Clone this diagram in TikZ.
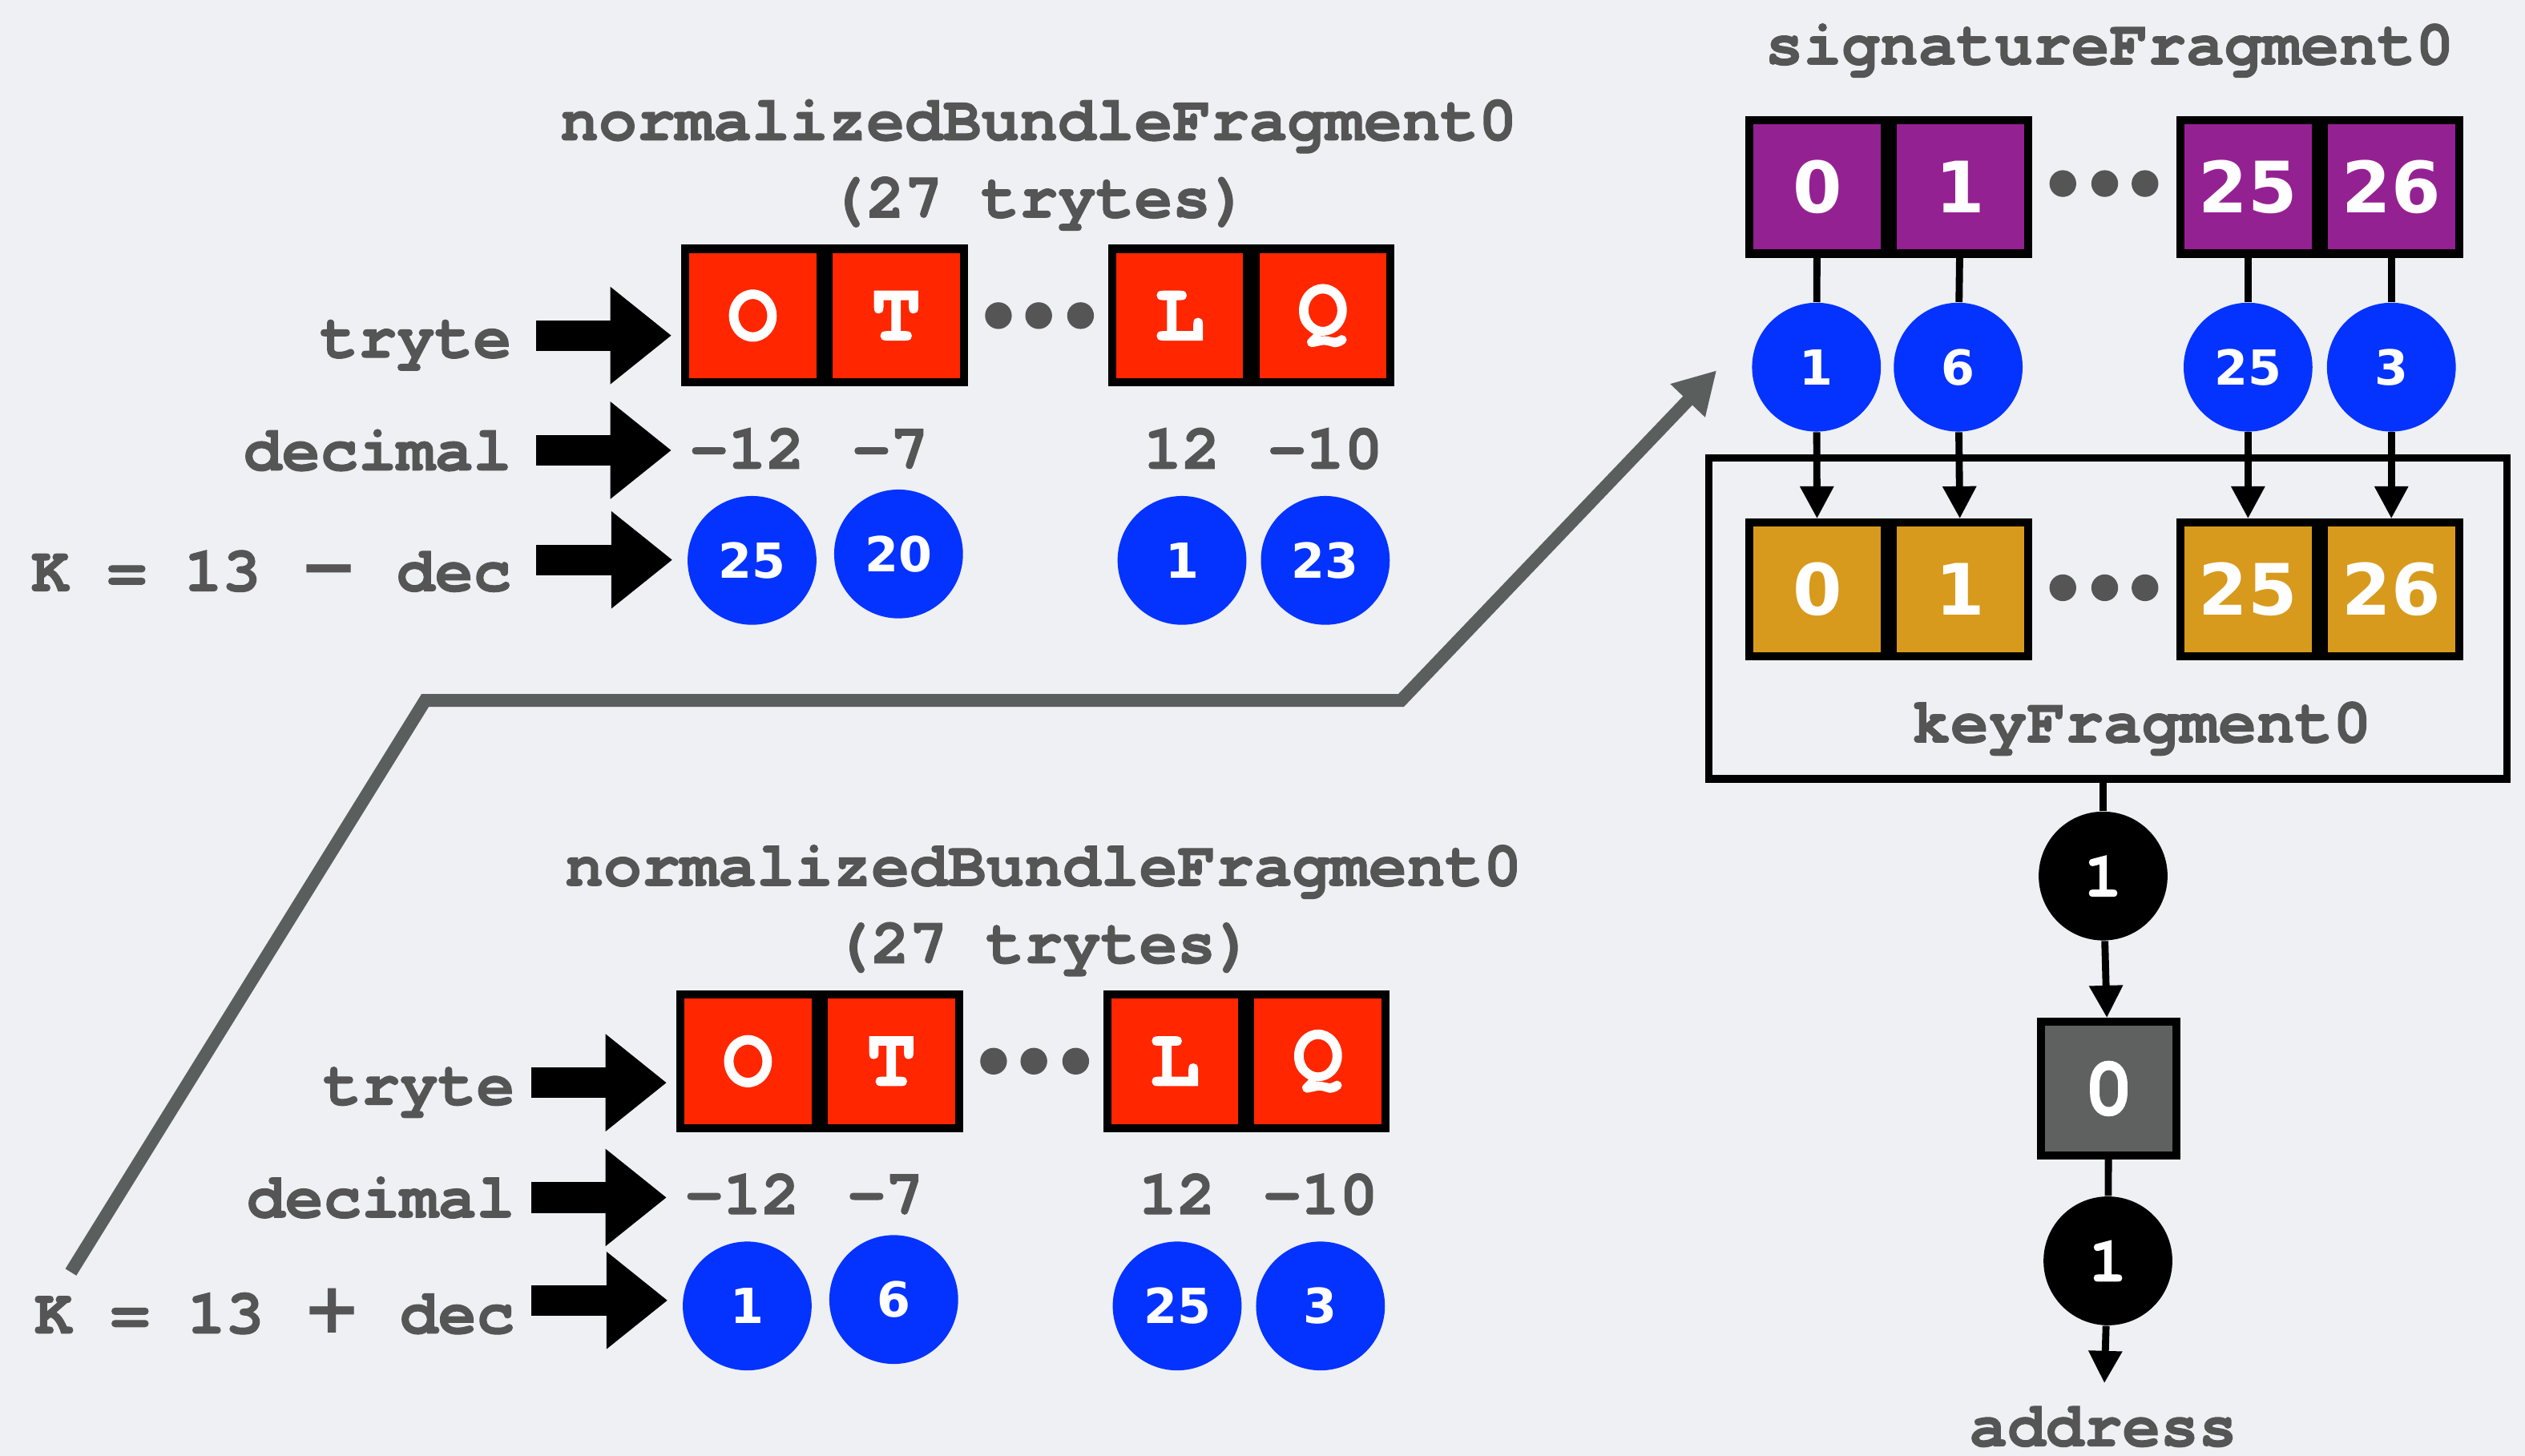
\documentclass[tikz,border=0pt]{standalone}
\usepackage{fontspec}
\setmainfont{texgyrecursor}[Extension=.otf, UprightFont=*-regular, BoldFont=*-bold, BoldFeatures={FakeBold=1.3}]
\newfontfamily\numfont{DejaVu Sans}
\usetikzlibrary{shapes.geometric, arrows, arrows.meta, positioning}

\definecolor{bggray}{HTML}{EEF0F3}
\definecolor{txtgray}{HTML}{555555}
\definecolor{trytered}{HTML}{FF2600}
\definecolor{numblue}{HTML}{0433FF}
\definecolor{sigpurple}{HTML}{942192}
\definecolor{keyorange}{HTML}{D89A1C}
\definecolor{digestgray}{HTML}{5E6160}
\definecolor{linegray}{HTML}{5A5F5D}

\newcommand{\lblfont}{\fontsize{19.8}{22}\selectfont\bfseries}
\newcommand{\boxfont}{\fontsize{26}{28}\selectfont\bfseries}
\newcommand{\numsmall}{\numfont\fontsize{15}{16}\selectfont\bfseries}
\newcommand{\numbig}{\numfont\fontsize{22}{24}\selectfont\bfseries}
\newcommand{\opsign}[1]{{\numfont\fontsize{22}{24}\selectfont\bfseries #1}}

\tikzstyle{lbl} = [inner sep=0pt, text=txtgray, font=\lblfont]
\tikzstyle{trytebox} = [rectangle, minimum width=42pt, minimum height=41.5pt, draw=black, line width=2.5pt, fill=trytered, text=white, font=\boxfont, inner sep=0pt]
\tikzstyle{sigbox} = [trytebox, fill=sigpurple, font=\numbig]
\tikzstyle{keybox} = [trytebox, fill=keyorange, font=\numbig]
\tikzstyle{digestbox} = [trytebox, fill=digestgray, font=\boxfont]
\tikzstyle{val} = [circle, minimum size=40pt, inner sep=0pt, fill=numblue, text=white, font=\numsmall]
\tikzstyle{hashval} = [val, fill=black, font=\lblfont]
\tikzstyle{dot} = [circle, minimum size=8.3pt, inner sep=0pt, fill=txtgray]
\tikzstyle{blockarrow} = [line width=9.5pt, -{Triangle[width=29pt,length=19pt]}]
\tikzstyle{arrow} = [line width=2.2pt, -{Triangle[width=10pt,length=10pt]}]
\tikzstyle{link} = [line width=2.2pt]

\begin{document}
\begin{tikzpicture}[x=0.5pt, y=-0.5pt]

\fill[bggray] (0,0) rectangle (1568,904);
\useasboundingbox (0,0) rectangle (1568,904);

%% UPPER FRAGMENT (13 - dec)

\node (nbfA) [lbl, anchor=base] at (645,87) {normalizedBundleFragment0};
\node (lenA) [lbl, anchor=base] at (645,135) {(27 trytes)};
\node (tA1) [trytebox] at (467.5,196) {O};
\node (tA2) [trytebox, right of=tA1, node distance=44.5pt] {T};
\node (tA3) [trytebox] at (732.5,196) {L};
\node (tA4) [trytebox, right of=tA3, node distance=44.5pt] {Q};
\foreach \x [count=\i] in {620,645,671}
  \node (dA\i) [dot] at (\x,196) {};
\node (vA1) [lbl, anchor=base] at (464,291) {-12};
\node (vA2) [lbl, anchor=base] at (553,291) {-7};
\node (vA3) [lbl, anchor=base] at (734,291) {12};
\node (vA4) [lbl, anchor=base] at (823,291) {-10};
\node (kA1) [val] at (467,348) {25};
\node (kA2) [val] at (558,344) {20};
\node (kA3) [val] at (734,348) {1};
\node (kA4) [val] at (823,348) {23};
\node (lTA) [lbl, anchor=base east] at (318,222) {tryte};
\node (lDA) [lbl, anchor=base east] at (318,292) {decimal};
\node (lKA) [lbl, anchor=base east] at (318,367) {K = 13 \opsign{−} dec};

%% LOWER FRAGMENT (13 + dec)

\node (nbfB) [lbl, anchor=base] at (648,550) {normalizedBundleFragment0};
\node (lenB) [lbl, anchor=base] at (648,598) {(27 trytes)};
\node (tB1) [trytebox] at (464.5,659) {O};
\node (tB2) [trytebox, right of=tB1, node distance=44.5pt] {T};
\node (tB3) [trytebox] at (729.5,659) {L};
\node (tB4) [trytebox, right of=tB3, node distance=44.5pt] {Q};
\foreach \x [count=\i] in {617,642,668}
  \node (dB\i) [dot] at (\x,659) {};
\node (vB1) [lbl, anchor=base] at (461,754) {-12};
\node (vB2) [lbl, anchor=base] at (550,754) {-7};
\node (vB3) [lbl, anchor=base] at (731,754) {12};
\node (vB4) [lbl, anchor=base] at (820,754) {-10};
\node (kB1) [val] at (464,811) {1};
\node (kB2) [val] at (555,807) {6};
\node (kB3) [val] at (731,811) {25};
\node (kB4) [val] at (820,811) {3};
\node (lTB) [lbl, anchor=base east] at (320,686) {tryte};
\node (lDB) [lbl, anchor=base east] at (320,756) {decimal};
\node (lKB) [lbl, anchor=base east] at (320,828) {K = 13 \opsign{+} dec};

%% SIGNATURE / KEY FRAGMENT

\node (sfT) [lbl, anchor=base] at (1310,40) {signatureFragment0};
\node (sg1) [sigbox] at (1128.5,116) {0};
\node (sg2) [sigbox, right of=sg1, node distance=44.5pt] {1};
\node (sg3) [sigbox] at (1396,116) {25};
\node (sg4) [sigbox, right of=sg3, node distance=44.5pt] {26};
\foreach \x [count=\i] in {1281,1307,1332}
  \node (dS\i) [dot] at (\x,114) {};
\node (sv1) [val] at (1128,228) {1};
\node (sv2) [val] at (1216,228) {6};
\node (sv3) [val] at (1396,228) {25};
\node (sv4) [val] at (1485,228) {3};

\node (keyfrag) [draw=black, line width=2.3pt, minimum width=247.7pt, minimum height=99.7pt] at (1309,384) {};
\node (kf1) [keybox] at (1128.5,366) {0};
\node (kf2) [keybox, right of=kf1, node distance=44.5pt] {1};
\node (kf3) [keybox] at (1396,366) {25};
\node (kf4) [keybox, right of=kf3, node distance=44.5pt] {26};
\foreach \x [count=\i] in {1281,1307,1332}
  \node (dK\i) [dot] at (\x,365) {};
\node (kfT) [lbl, anchor=base] at (1330,461) {keyFragment0};

\node (h1) [hashval] at (1306,544) {1};
\node (dg) [digestbox] at (1309.5,676) {0};
\node (h2) [hashval] at (1309,783) {1};
\node (addr) [lbl, anchor=base] at (1306,898) {address};

\coordinate (gS) at (44,790);
\coordinate (gB1) at (264,435);
\coordinate (gB2) at (870,435);
\coordinate (gE) at (1066,230);

%% ARROWS

\draw [blockarrow] ([xshift=7.5pt,yshift=3pt]lTA.east) -- ([xshift=-3pt,yshift=3pt]lTA.east -| tA1.west);
\draw [blockarrow] ([xshift=7.5pt]lDA.east) -- ([xshift=-5.5pt]lDA.east -| vA1.west);
\draw [blockarrow] ([xshift=7.5pt,yshift=3.5pt]lKA.east) -- ([xshift=-4.5pt,yshift=3.5pt]lKA.east -| kA1.west);
\draw [blockarrow] ([xshift=5pt,yshift=3pt]lTB.east) -- ([xshift=-3pt,yshift=3pt]lTB.east -| tB1.west);
\draw [blockarrow] ([xshift=5pt]lDB.east) -- ([xshift=-5.5pt]lDB.east -| vB1.west);
\draw [blockarrow] ([xshift=5pt,yshift=3.5pt]lKB.east) -- ([xshift=-4.5pt,yshift=3.5pt]lKB.east -| kB1.west);

\draw [line width=4pt, linegray, -{Triangle[width=14pt,length=13pt]}] (gS) -- (gB1) -- (gB2) -- (gE);

\foreach \i in {1,...,4} {
  \draw [link] (sg\i) -- (sv\i);
  \draw [arrow] (sv\i) -- (kf\i);
}
\draw [link] (keyfrag.south -| h1) -- (h1);
\draw [arrow] (h1) -- (dg);
\draw [link] (dg) -- (h2);
\draw [arrow, shorten >=7pt] (h2) -- (addr);

\end{tikzpicture}
\end{document}
